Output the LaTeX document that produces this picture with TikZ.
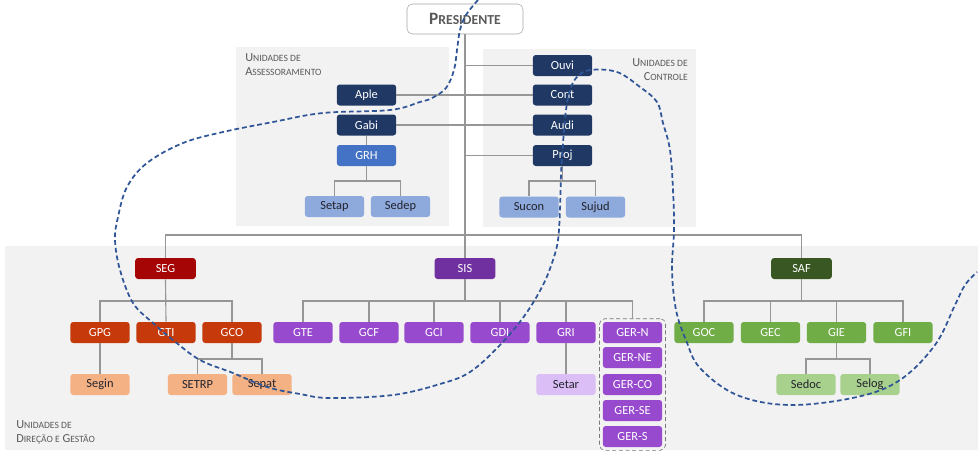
\documentclass[tikz,border=0pt]{standalone}
\usepackage{fontspec}
\setmainfont{Carlito}
\usetikzlibrary{fit}
\definecolor{navyc}{RGB}{31,56,100}
\definecolor{grhc}{RGB}{68,114,196}
\definecolor{lbluec}{RGB}{142,169,219}
\definecolor{segc}{RGB}{165,5,5}
\definecolor{redc}{RGB}{197,57,10}
\definecolor{lorangec}{RGB}{244,177,131}
\definecolor{sisc}{RGB}{112,48,160}
\definecolor{purpc}{RGB}{152,74,206}
\definecolor{lpurpc}{RGB}{218,190,245}
\definecolor{safc}{RGB}{56,87,35}
\definecolor{greenc}{RGB}{112,173,71}
\definecolor{lgreenc}{RGB}{169,209,142}
\definecolor{panelc}{RGB}{242,242,242}
\definecolor{linec}{RGB}{150,150,150}
\definecolor{lblc}{RGB}{90,90,90}
\definecolor{darktxt}{RGB}{35,35,45}
\definecolor{curvec}{RGB}{47,85,151}
\newcommand\fsc[2]{#1{\fontsize{7.2}{11}\selectfont #2}}
\begin{document}
\begin{tikzpicture}[x=0.75pt,y=-0.75pt,
  unit/.style={rounded corners=2.2pt, minimum width=44.5pt, minimum height=15.75pt, inner sep=0pt,
    font=\fontsize{9.3}{10}\selectfont, text=white},
  navybox/.style={unit, fill=navyc},
  grhbox/.style={unit, fill=grhc},
  lbluebox/.style={unit, fill=lbluec, text=darktxt},
  segbox/.style={unit, fill=segc, minimum width=45.5pt},
  redbox/.style={unit, fill=redc},
  lorangebox/.style={unit, fill=lorangec, text=darktxt},
  sisbox/.style={unit, fill=sisc, minimum width=45.5pt},
  purpbox/.style={unit, fill=purpc},
  lpurpbox/.style={unit, fill=lpurpc, text=darktxt},
  safbox/.style={unit, fill=safc, minimum width=45.5pt},
  greenbox/.style={unit, fill=greenc},
  lgreenbox/.style={unit, fill=lgreenc, text=darktxt},
  conn/.style={draw=linec, line width=0.85pt},
  lbl/.style={inner sep=0pt, text=lblc, font=\fontsize{9.2}{11}\selectfont},
  annot/.style={draw=curvec, line width=1.3pt, dash pattern=on 3.6pt off 2.2pt}
]
\useasboundingbox (0,0) rectangle (978,450);
% panels
\fill[panelc] (236,47) rectangle (449,226);
\fill[panelc] (483,49) rectangle (696,227);
\fill[panelc] (5,246) rectangle (978,450);

% labels
\node[lbl, anchor=north west, align=left] (lblA) at (245,53) {\fsc{U}{NIDADES DE}\\\fsc{A}{SSESSORAMENTO}};
\node[lbl, anchor=north east, align=right] (lblC) at (688,58) {\fsc{U}{NIDADES DE}\\\fsc{C}{ONTROLE}};
\node[lbl, anchor=north west, align=left] (lblD) at (16,420) {\fsc{U}{NIDADES DE}\\\fsc{D}{IREÇÃO E} \fsc{G}{ESTÃO}};

% president
\node[draw={rgb,255:red,165;green,165;blue,165}, fill=white, rounded corners=4pt, minimum width=87pt, minimum height=22.5pt, inner sep=0pt, text=lblc, font=\bfseries]
  (pres) at (465,19) {{\fontsize{13}{14}\selectfont P}{\fontsize{10.3}{12}\selectfont RESIDENTE}};

% advisory
\node[navybox] (Aple) at (366.5,95) {Aple};
\node[navybox] (Gabi) at (366.5,125) {Gabi};
\node[grhbox] (GRH) at (366.5,155.5) {GRH};
\node[lbluebox] (Setap) at (334.5,206.5) {Setap};
\node[lbluebox] (Sedep) at (400.5,206.5) {Sedep};
% control
\node[navybox] (Ouvi) at (562.5,65.5) {Ouvi};
\node[navybox] (Cont) at (562.5,95) {Cont};
\node[navybox] (Audi) at (562.5,125) {Audi};
\node[navybox] (Proj) at (562.5,155.5) {Proj};
\node[lbluebox] (Sucon) at (529,207) {Sucon};
\node[lbluebox] (Sujud) at (595.5,207) {Sujud};

% direction
\node[segbox] (SEG) at (165.5,268.5) {SEG};
\node[sisbox] (SIS) at (465,268.5) {SIS};
\node[safbox] (SAF) at (801.5,268.5) {SAF};

\node[redbox] (GPG) at (100,332.5) {GPG};
\node[redbox] (GTI) at (166,332.5) {GTI};
\node[redbox] (GCO) at (232,332.5) {GCO};
\node[lorangebox] (Segin) at (100,384.5) {Segin};
\node[lorangebox] (SETRP) at (197.5,384.5) {SETRP};
\node[lorangebox] (Sepat) at (262,384.5) {Sepat};

\node[purpbox] (GTE) at (303,332.5) {GTE};
\node[purpbox] (GCF) at (369,332.5) {GCF};
\node[purpbox] (GCI) at (434,332.5) {GCI};
\node[purpbox] (GDI) at (500,332.5) {GDI};
\node[purpbox] (GRI) at (566,332.5) {GRI};
\node[purpbox] (GERN) at (632.5,332.5) {GER-N};
\node[purpbox] (GERNE) at (632.5,357.5) {GER-NE};
\node[purpbox] (GERCO) at (632.5,384.5) {GER-CO};
\node[purpbox] (GERSE) at (632.5,410.5) {GER-SE};
\node[purpbox] (GERS) at (632.5,436.5) {GER-S};
\node[lpurpbox] (Setar) at (566,384.5) {Setar};
\node[draw={rgb,255:red,120;green,120;blue,120}, densely dashed, line width=0.5pt, rounded corners=4pt, inner sep=2.3pt, fit=(GERN)(GERS)] (GERbox) {};

\node[greenbox] (GOC) at (704,332.5) {GOC};
\node[greenbox] (GEC) at (770.5,332.5) {GEC};
\node[greenbox] (GIE) at (836.5,332.5) {GIE};
\node[greenbox] (GFI) at (903,332.5) {GFI};
\node[lgreenbox] (Sedoc) at (806,384.5) {Sedoc};
\node[lgreenbox] (Selog) at (870,384.5) {Selog};

% connectors top
\draw[conn] (pres.south) -- (pres.south |- 0,235);
\draw[conn] (Ouvi.west) -- (Ouvi.west -| pres.south);
\draw[conn] (Aple.east) -- (Cont.west);
\draw[conn] (Gabi.east) -- (Audi.west);
\draw[conn] (Proj.west) -- (Proj.west -| pres.south);
\draw[conn] (Gabi.south) -- (GRH.north);
\draw[conn] (GRH.south) -- (GRH.south |- 0,181);
\draw[conn] (Setap.north) |- (Sedep.north |- 0,181) -- (Sedep.north);
\draw[conn] (Proj.south) -- (Proj.south |- 0,181);
\draw[conn] (Sucon.north) |- (Sujud.north |- 0,181) -- (Sujud.north);

% connectors bottom
\draw[conn] (SEG.north) |- (SAF.north |- 0,235) -- (SAF.north);
\draw[conn] (SIS.north) -- (SIS.north |- 0,235);

\draw[conn] (SEG.south) -- (GTI.north);
\draw[conn] (GPG.north) |- (GCO.north |- 0,301) -- (GCO.north);
\draw[conn] (GPG.south) -- (Segin.north);
\draw[conn] (GCO.south) -- (GCO.south |- 0,359);
\draw[conn] (SETRP.north) |- (Sepat.north |- 0,359) -- (Sepat.north);

\draw[conn] (SIS.south) -- (SIS.south |- 0,301);
\draw[conn] (GTE.north) |- (GERbox.north |- 0,301) -- (GERbox.north);
\draw[conn] (GCF.north) -- (GCF.north |- 0,301);
\draw[conn] (GCI.north) -- (GCI.north |- 0,301);
\draw[conn] (GDI.north) -- (GDI.north |- 0,301);
\draw[conn] (GRI.north) -- (GRI.north |- 0,301);
\draw[conn] (GRI.south) -- (Setar.north);

\draw[conn] (SAF.south) -- (SAF.south |- 0,301);
\draw[conn] (GOC.north) |- (GFI.north |- 0,301) -- (GFI.north);
\draw[conn] (GEC.north) -- (GEC.north |- 0,301);
\draw[conn] (GIE.north) -- (GIE.north |- 0,301);
\draw[conn] (GIE.south) -- (GIE.south |- 0,359);
\draw[conn] (Sedoc.north) |- (Selog.north |- 0,359) -- (Selog.north);

% hand-drawn annotation curve
\draw[annot] plot[smooth, tension=0.6] coordinates {
 (478,0) (466,15) (460,30) (457,50) (454,70) (446,88) (432,98) (420,102) (390,110) (323,113)
 (273,122) (223,132) (183,143) (147,163) (127,187) (118,217) (115,240) (120,270) (133,303)
 (153,323) (173,340) (200,360) (233,373) (267,387) (300,394) (330,398) (393,395) (440,384)
 (470,372) (500,345) (525,315) (543,285) (553,260) (558,240) (560,210) (561,175) (563,143)
 (566,110) (570,90) (577,77) (590,70) (617,72) (640,87) (657,102) (663,123) (670,150)
 (673,190) (674,230) (672,270) (676,310) (686,340) (700,368) (737,395) (790,405) (857,397)
 (900,380) (935,345) (955,305) (965,285) (977,272)};
\end{tikzpicture}
\end{document}
